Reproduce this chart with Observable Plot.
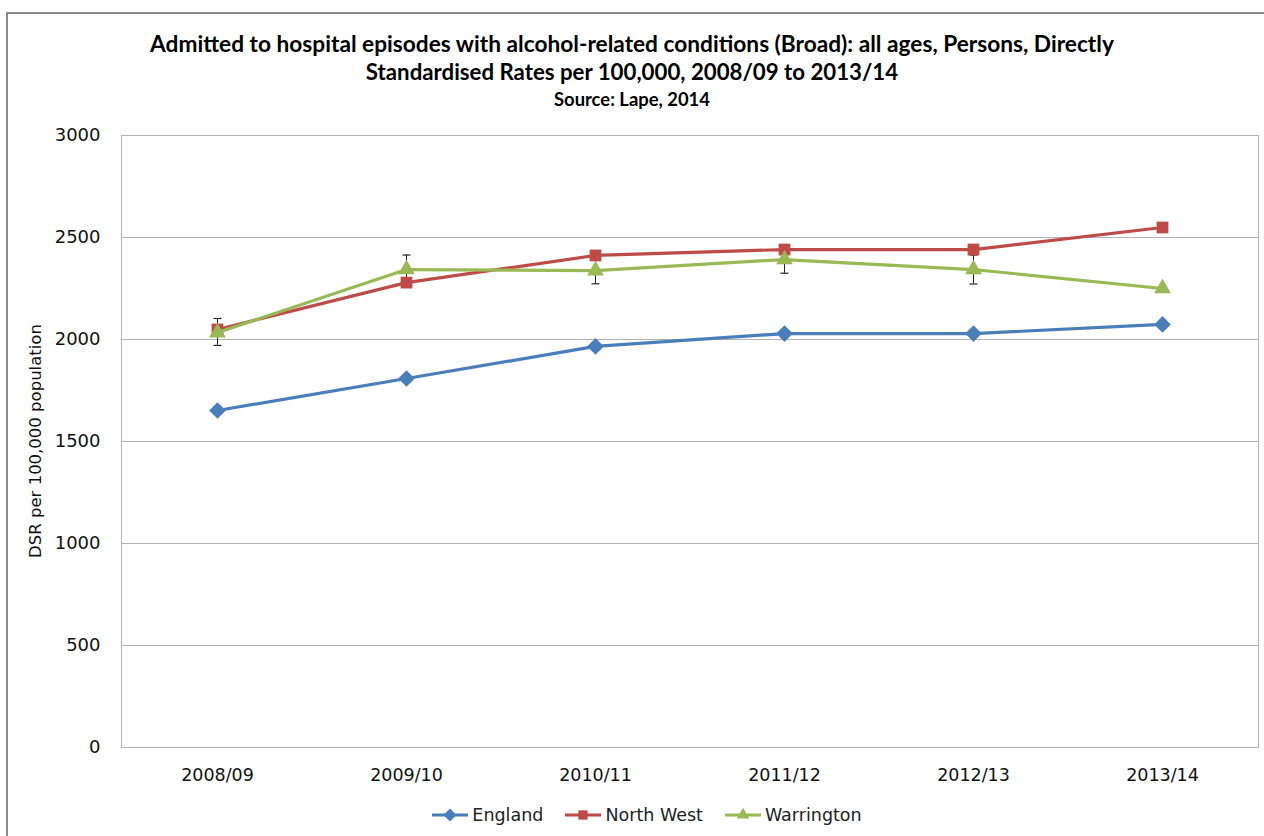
<!DOCTYPE html>
<html>
<head>
<meta charset="utf-8">
<script src="https://cdn.jsdelivr.net/npm/d3@7"></script>
<script src="https://cdn.jsdelivr.net/npm/@observablehq/plot@0.6"></script>
<style>
  html, body { margin: 0; padding: 0; background: #fff; }
  #wrap { position: relative; width: 1264px; height: 836px; overflow: hidden; font-family: "DejaVu Sans", sans-serif; }
  #border { position: absolute; left: 6px; top: 12px; width: 1270px; height: 840px; border-top: 2px solid #8a8a8a; border-left: 2px solid #8a8a8a; }
  .title { position: absolute; left: 0; width: 1264px; text-align: center; font-family: Lato, "Open Sans", sans-serif; font-weight: bold; color: #000; white-space: nowrap; }
  #chart { position: absolute; left: 0; top: 0; }
  #ylabel { position: absolute; left: 35px; top: 441px; transform: translate(-50%, -50%) rotate(-90deg); white-space: nowrap; font-size: 16.5px; color: #111; }
  #legend { position: absolute; left: 15px; top: 805px; width: 1264px; display: flex; justify-content: center; align-items: center; font-size: 17.5px; color: #222; }
  .item { display: flex; align-items: center; margin: 0 11px; }
  .item svg { margin-right: 4px; }
</style>
</head>
<body>
<div id="wrap">
  <div id="border"></div>
  <div class="title" id="t1" style="top:30px;">Admitted to hospital episodes with alcohol-related conditions (Broad): all ages, Persons, Directly</div>
  <div class="title" id="t2" style="top:58px;">Standardised Rates per 100,000, 2008/09 to 2013/14</div>
  <div class="title" id="t3" style="top:88px;">Source: Lape, 2014</div>
  <div id="chart"></div>
  <div id="ylabel">DSR per 100,000 population</div>
  <div id="legend"></div>
</div>
<script>
// ---- data ----
const years = ["2008/09", "2009/10", "2010/11", "2011/12", "2012/13", "2013/14"];
const seriesNames = ["England", "North West", "Warrington"];
const england = [1652, 1809, 1966, 2029, 2029, 2074];
const northWest = [2049, 2279, 2412, 2441, 2441, 2549];
const warrington = [2034, 2343, 2338, 2392, 2343, 2250];
const warringtonLower = [1971, 2272, 2273, 2325, 2272, null];
const warringtonUpper = [2103, 2414, 2403, 2459, 2414, null];
const yTicks = [0, 500, 1000, 1500, 2000, 2500, 3000];
const colors = ["#4A7EBB", "#BE4B48", "#98B954"];
const symbols = ["diamond2", "square2", "triangle2"];

// fit title widths (Calibri-like width)
function fit(id, target, size) {
  const el = document.getElementById(id);
  const c = document.createElement("canvas").getContext("2d");
  c.font = "bold " + size + "px Lato";
  const w = c.measureText(el.textContent).width;
  el.style.fontSize = (size * target / w) + "px";
}
fit("t1", 965, 19);
fit("t2", 533, 19);
fit("t3", 156, 16);

const valuesBySeries = [england, northWest, warrington];
const rows = [];
seriesNames.forEach((s, si) => years.forEach((yr, i) => rows.push({series: s, year: yr, value: valuesBySeries[si][i]})));
const errRows = years.map((yr, i) => ({year: yr, lo: warringtonLower[i], hi: warringtonUpper[i]})).filter(d => d.lo != null);

const capSymbol = {
  draw(context, size) {
    const w = Math.sqrt(size);
    context.moveTo(-w / 2, 0);
    context.lineTo(w / 2, 0);
  }
};

const marks = [
  Plot.gridY(yTicks, {stroke: "#b3b3b3", strokeOpacity: 1, strokeWidth: 1}),
  Plot.frame({stroke: "#b3b3b3", strokeWidth: 1}),
  Plot.axisY(yTicks, {tickSize: 0, tickPadding: 21, fontSize: 18, fill: "#111", tickFormat: d => String(d), label: null}),
  Plot.axisX(years, {tickSize: 0, tickPadding: 21, fontSize: 17.5, fill: "#111", label: null}),
  Plot.ruleX(errRows, {x: "year", y1: "lo", y2: "hi", stroke: "#222", strokeWidth: 1}),
  Plot.dot(errRows, {x: "year", y: "lo", symbol: capSymbol, r: 4.5, stroke: "#222", strokeWidth: 1.2}),
  Plot.dot(errRows, {x: "year", y: "hi", symbol: capSymbol, r: 4.5, stroke: "#222", strokeWidth: 1.2})
];
seriesNames.forEach((s, si) => {
  const d = rows.filter(r => r.series === s);
  marks.push(Plot.line(d, {x: "year", y: "value", stroke: colors[si], strokeWidth: 3.2}));
  marks.push(Plot.dot(d, {x: "year", y: "value", symbol: symbols[si], fill: colors[si], stroke: "none", r: si === 2 ? 8 : 7.5}));
});

const chart = Plot.plot({
  width: 1264,
  height: 800,
  marginTop: 135,
  marginBottom: 53,
  marginLeft: 121,
  marginRight: 6,
  style: {fontFamily: "'DejaVu Sans', sans-serif", fontSize: "17.5px", background: "transparent", color: "#111"},
  x: {type: "point", domain: years, padding: 0.5, axis: null},
  y: {domain: [0, 3000], axis: null},
  marks
});
document.getElementById("chart").appendChild(chart);

// legend
const legend = d3.select("#legend");
seriesNames.forEach((s, si) => {
  const item = legend.append("div").attr("class", "item");
  const svg = item.append("svg").attr("width", 36).attr("height", 16);
  svg.append("line").attr("x1", 0).attr("x2", 36).attr("y1", 8).attr("y2", 8).attr("stroke", colors[si]).attr("stroke-width", 3);
  const sym = {diamond2: d3.symbolDiamond2, square2: d3.symbolSquare2, triangle2: d3.symbolTriangle2}[symbols[si]];
  svg.append("path").attr("transform", "translate(18,8)").attr("d", d3.symbol(sym, 110)()).attr("fill", colors[si]);
  item.append("span").text(s);
});
</script>
</body>
</html>
